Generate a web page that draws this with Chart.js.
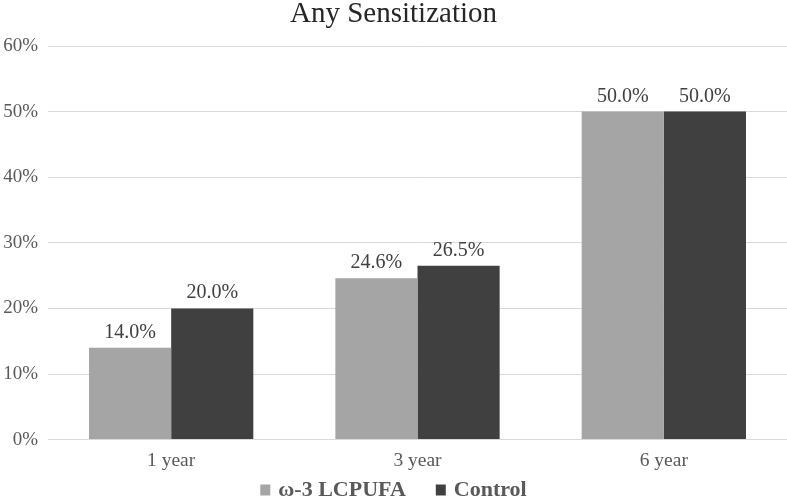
<!DOCTYPE html>
<html><head><meta charset="utf-8">
<script src="https://cdn.jsdelivr.net/npm/chart.js@4"></script>
<style>html,body{margin:0;padding:0;background:#fff}#w{width:787px;height:500px}</style>
</head><body><div id="w"><canvas id="c"></canvas></div>
<script>
const categories = ["1 year", "3 year", "6 year"];
const omega3 = [14.0, 24.6, 50.0];
const control = [20.0, 26.5, 50.0];
const yTicks = [0, 10, 20, 30, 40, 50, 60];
const seriesNames = ["ω-3 LCPUFA", "Control"];
const seriesColors = ['#a5a5a5', '#404040'];
const chartTitle = 'Any Sensitization';

const FONT = "'Liberation Serif', 'Times New Roman', serif";
const labelPlugin = {
  id: 'lbl',
  afterDatasetsDraw(chart) {
    const ctx = chart.ctx;
    ctx.save();
    ctx.font = "20px " + FONT;
    ctx.fillStyle = "#404040";
    ctx.textAlign = "center";
    ctx.textBaseline = "alphabetic";
    chart.data.datasets.forEach((ds, i) => {
      chart.getDatasetMeta(i).data.forEach((bar, j) => {
        ctx.fillText(ds.data[j].toFixed(1) + "%", bar.x, bar.y - 10);
      });
    });
    ctx.restore();
  }
};
const titleLegendPlugin = {
  id: 'tl',
  afterDraw(chart) {
    const ctx = chart.ctx;
    ctx.save();
    ctx.font = "29px " + FONT;
    ctx.fillStyle = '#262626';
    ctx.textAlign = 'center';
    ctx.textBaseline = 'alphabetic';
    ctx.fillText(chartTitle, chart.width / 2, 22);

    ctx.font = "bold 22px " + FONT;
    ctx.textAlign = 'left';
    const box = 10, gap = 8, itemGap = 30;
    const items = chart.data.datasets.map(d => ({ t: d.label, c: d.backgroundColor, w: ctx.measureText(d.label).width }));
    const total = items.reduce((s, it) => s + box + gap + it.w, 0) + itemGap * (items.length - 1);
    let x = (chart.width - total) / 2;
    items.forEach(it => {
      ctx.fillStyle = it.c;
      ctx.fillRect(x, 484.5, box, 11);
      x += box + gap;
      ctx.fillStyle = '#595959';
      ctx.fillText(it.t, x, 496);
      x += it.w + itemGap;
    });
    ctx.restore();
  }
};

new Chart(document.getElementById('c'), {
  type: 'bar',
  data: {
    labels: categories,
    datasets: [
      { label: seriesNames[0], data: omega3, backgroundColor: seriesColors[0], categoryPercentage: 0.667, barPercentage: 1.0 },
      { label: seriesNames[1], data: control, backgroundColor: seriesColors[1], categoryPercentage: 0.667, barPercentage: 1.0 }
    ]
  },
  options: {
    responsive: true, maintainAspectRatio: false, animation: false,
    layout: { padding: { top: 46, right: 0, left: 0, bottom: 25 } },
    plugins: {
      title: { display: false },
      legend: { display: false },
      tooltip: { enabled: false }
    },
    scales: {
      x: {
        grid: { display: false },
        border: { color: '#d9d9d9' },
        ticks: { color: '#595959', font: { family: FONT, size: 19.5 }, padding: 2 }
      },
      y: {
        min: 0, max: 60,
        afterBuildTicks(ax) { ax.ticks = yTicks.map(v => ({ value: v })); },
        afterFit(ax) { ax.width = 48; },
        grid: { color: '#d9d9d9', drawTicks: false },
        border: { display: false },
        ticks: { color: '#595959', font: { family: FONT, size: 19 }, padding: 10, callback: v => v + '%' }
      }
    }
  },
  plugins: [labelPlugin, titleLegendPlugin]
});
</script></body></html>
